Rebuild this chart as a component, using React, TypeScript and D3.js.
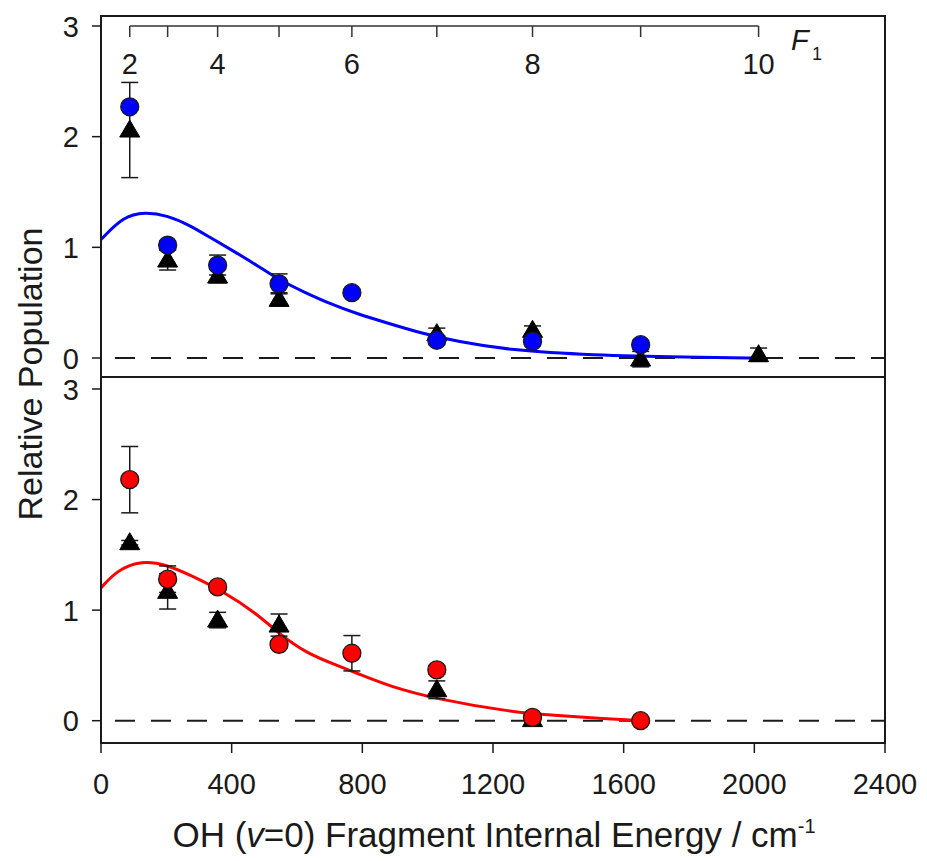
import React from 'react';
import * as d3 from 'd3';

// F1 rotational levels (N) and their energies (cm^-1), used for top axis and data x-positions
const F1_LEVELS = [2, 3, 4, 5, 6, 7, 8, 9, 10];
const F1_ENERGY = [88, 204, 357, 545, 768, 1028, 1321, 1652, 2013];
const F1_LABELED = [2, 4, 6, 8, 10];

const X_TICKS = [0, 400, 800, 1200, 1600, 2000, 2400];
const Y_TICKS = [0, 1, 2, 3];

// Top panel (blue)
const TOP_CIRCLE_N = [2, 3, 4, 5, 6, 7, 8, 9];
const TOP_CIRCLE_POP = [2.27, 1.02, 0.84, 0.67, 0.59, 0.16, 0.15, 0.12];
const TOP_CIRCLE_ERR = [0.03, 0.04, 0.09, 0.09, 0.03, 0.04, 0.04, 0.04];
const TOP_TRI_N = [2, 3, 4, 5, 7, 8, 9, 10];
const TOP_TRI_POP = [2.06, 0.885, 0.74, 0.53, 0.22, 0.25, -0.01, 0.03];
const TOP_TRI_ERR = [0.43, 0.09, 0.06, 0.06, 0.05, 0.04, 0.07, 0.06];
const TOP_FIT_E = [0, 68, 135, 201, 272, 333, 404, 476, 548, 619, 701, 783, 884, 986, 1088, 1252, 1500, 1800, 2013];
const TOP_FIT_POP = [1.07, 1.28, 1.32, 1.29, 1.2, 1.09, 0.97, 0.84, 0.7, 0.6, 0.49, 0.4, 0.31, 0.22, 0.15, 0.07, 0.025, 0.006, 0];

// Bottom panel (red)
const BOT_CIRCLE_N = [2, 3, 4, 5, 6, 7, 8, 9];
const BOT_CIRCLE_POP = [2.18, 1.28, 1.21, 0.69, 0.61, 0.46, 0.03, 0.0];
const BOT_CIRCLE_ERR = [0.3, 0.12, 0.03, 0.03, 0.16, 0.04, 0.02, 0.02];
const BOT_TRI_N = [2, 3, 4, 5, 7, 8];
const BOT_TRI_POP = [1.61, 1.17, 0.91, 0.865, 0.28, 0.01];
const BOT_TRI_ERR = [0.02, 0.16, 0.07, 0.1, 0.08, 0.02];
const BOT_FIT_E = [0, 48, 125, 201, 272, 374, 476, 548, 629, 731, 783, 884, 1028, 1252, 1400, 1540, 1652];
const BOT_FIT_POP = [1.2, 1.36, 1.45, 1.41, 1.32, 1.17, 0.97, 0.78, 0.61, 0.49, 0.43, 0.31, 0.195, 0.08, 0.045, 0.02, 0.0];

const FONT = '"Liberation Sans", Arial, Helvetica, sans-serif';
const INK = '#1a1a1a';

const energyOf = (n: number) => F1_ENERGY[F1_LEVELS.indexOf(n)];

const x = d3.scaleLinear().domain([0, 2400]).range([101, 885]);
const yTop = d3.scaleLinear().domain([0, 3]).range([358, 26]);
const yBot = d3.scaleLinear().domain([0, 3]).range([720.7, 389]);

const TOP_Y0 = 16;
const MID_Y = 377;
const BOT_Y1 = 743;

function tri(cx: number, cy: number) {
  return `M${cx},${cy - 10}L${cx + 10},${cy + 7}L${cx - 10},${cy + 7}Z`;
}

function Panel(props: {
  y: d3.ScaleLinear<number, number>;
  circN: number[]; circPop: number[]; circErr: number[];
  triN: number[]; triPop: number[]; triErr: number[];
  fitE: number[]; fitPop: number[];
  color: string;
}) {
  const { y, color } = props;
  const fit = props.fitE.map((e, i) => [e, props.fitPop[i]] as [number, number]);
  const line = d3.line<[number, number]>().x(d => x(d[0])).y(d => y(d[1])).curve(d3.curveBasis);
  const err = (n: number, v: number, e: number, key: string) => {
    const cx = x(energyOf(n));
    const a = y(v + e), b = y(v - e);
    return (
      <g key={key} stroke={INK} strokeWidth={1.5}>
        <line x1={cx} x2={cx} y1={a} y2={b} />
        <line x1={cx - 8.5} x2={cx + 8.5} y1={a} y2={a} />
        <line x1={cx - 8.5} x2={cx + 8.5} y1={b} y2={b} />
      </g>
    );
  };
  return (
    <g>
      <line x1={x(0)} x2={x(2400)} y1={y(0)} y2={y(0)} stroke={INK} strokeWidth={2} strokeDasharray="20,16" strokeDashoffset={-14} />
      {Y_TICKS.map(t => (
        <g key={'yt' + t}>
          <line x1={92} x2={101} y1={y(t)} y2={y(t)} stroke={INK} strokeWidth={1.5} />
          <text x={79} y={y(t) + 10.5} textAnchor="end" fontSize={29} fontFamily={FONT} fill={INK}>{t}</text>
        </g>
      ))}
      <path d={line(fit) || ''} fill="none" stroke={color} strokeWidth={3} />
      {props.triN.map((n, i) => err(n, props.triPop[i], props.triErr[i], 'te' + i))}
      {props.circN.map((n, i) => err(n, props.circPop[i], props.circErr[i], 'ce' + i))}
      {props.triN.map((n, i) => (
        <path key={'tr' + i} d={tri(x(energyOf(n)), y(props.triPop[i]))} fill="#000" stroke="#000" strokeWidth={1} />
      ))}
      {props.circN.map((n, i) => (
        <circle key={'c' + i} cx={x(energyOf(n))} cy={y(props.circPop[i])} r={9} fill={color} stroke={INK} strokeWidth={1.3} />
      ))}
    </g>
  );
}

export default function App() {
  return (
    <svg width={927} height={861} viewBox="0 0 927 861"
      style={{ position: 'absolute', left: 0, top: 0, background: '#fff' }}>
      <rect x={0} y={0} width={927} height={861} fill="#fff" />

      {/* top F1 axis */}
      <line x1={x(energyOf(2))} x2={x(energyOf(10))} y1={yTop(3)} y2={yTop(3)} stroke="#333" strokeWidth={1.5} />
      {F1_LEVELS.map((n, i) => (
        <line key={'f' + n} x1={x(F1_ENERGY[i])} x2={x(F1_ENERGY[i])} y1={yTop(3)} y2={yTop(3) + 11} stroke="#333" strokeWidth={1.5} />
      ))}
      {F1_LABELED.map(n => (
        <text key={'fl' + n} x={x(energyOf(n))} y={74} textAnchor="middle" fontSize={29} fontFamily={FONT} fill={INK}>{n}</text>
      ))}
      <text x={791} y={50} fontSize={29} fontFamily={FONT} fontStyle="italic" fill={INK}>F</text>
      <text x={812} y={60} fontSize={18} fontFamily={FONT} fill={INK}>1</text>

      <Panel y={yTop} circN={TOP_CIRCLE_N} circPop={TOP_CIRCLE_POP} circErr={TOP_CIRCLE_ERR}
        triN={TOP_TRI_N} triPop={TOP_TRI_POP} triErr={TOP_TRI_ERR}
        fitE={TOP_FIT_E} fitPop={TOP_FIT_POP} color="#0000ff" />
      <Panel y={yBot} circN={BOT_CIRCLE_N} circPop={BOT_CIRCLE_POP} circErr={BOT_CIRCLE_ERR}
        triN={BOT_TRI_N} triPop={BOT_TRI_POP} triErr={BOT_TRI_ERR}
        fitE={BOT_FIT_E} fitPop={BOT_FIT_POP} color="#ff0000" />

      {/* frames */}
      <rect x={x(0)} y={TOP_Y0} width={x(2400) - x(0)} height={BOT_Y1 - TOP_Y0} fill="none" stroke={INK} strokeWidth={2} />
      <line x1={x(0)} x2={x(2400)} y1={MID_Y} y2={MID_Y} stroke={INK} strokeWidth={2} />

      {/* x ticks */}
      {X_TICKS.map(t => (
        <g key={'xt' + t}>
          <line x1={x(t)} x2={x(t)} y1={BOT_Y1} y2={BOT_Y1 + 10} stroke={INK} strokeWidth={1.5} />
          <text x={x(t)} y={794} textAnchor="middle" fontSize={29} fontFamily={FONT} fill={INK}>{t}</text>
        </g>
      ))}

      {/* axis titles */}
      <text x={494} y={847} textAnchor="middle" fontSize={35} fontFamily={FONT} fill={INK}>
        OH (<tspan fontStyle="italic">v</tspan>=0) Fragment Internal Energy / cm<tspan fontSize={20} dy={-14}>-1</tspan>
      </text>
      <text transform="translate(42,374) rotate(-90)" textAnchor="middle" fontSize={34} fontFamily={FONT} fill={INK}>
        Relative Population
      </text>
    </svg>
  );
}
